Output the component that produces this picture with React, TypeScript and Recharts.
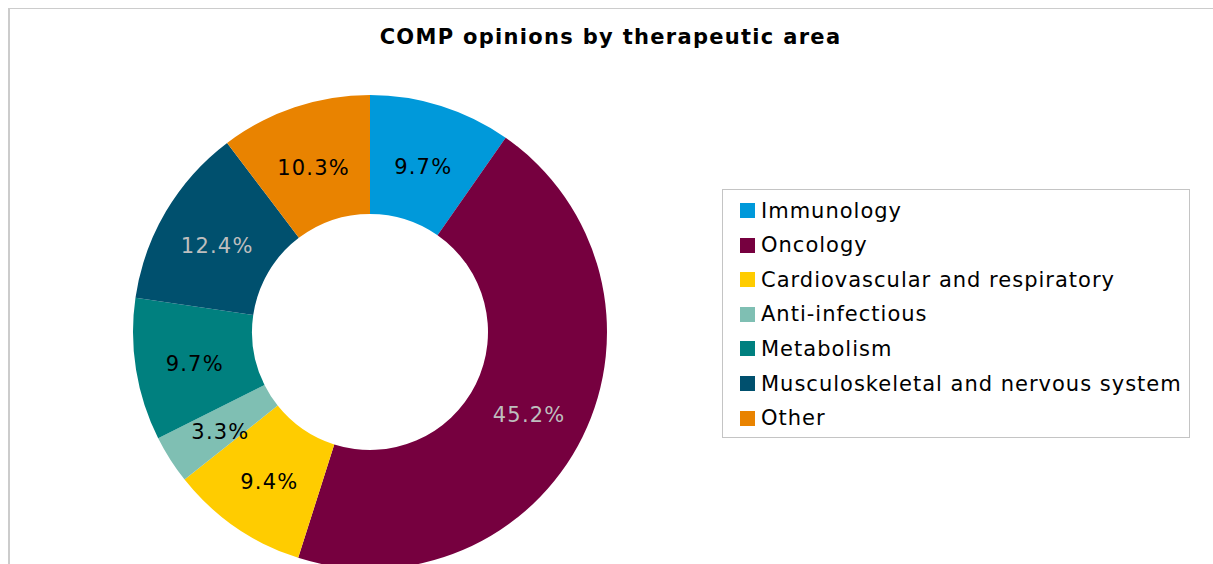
import React from "react";
import { PieChart, Pie, Cell, Legend } from "recharts";

const categories = [
  "Immunology",
  "Oncology",
  "Cardiovascular and respiratory",
  "Anti-infectious",
  "Metabolism",
  "Musculoskeletal and nervous system",
  "Other",
];
const shares = [9.7, 45.2, 9.4, 3.3, 9.7, 12.4, 10.3];
const colors = ["#0099DA", "#76003F", "#FFCC00", "#7FBFB3", "#00807F", "#00506E", "#E98300"];
const labelColors = ["#000000", "#BEBEBE", "#000000", "#000000", "#000000", "#BEBEBE", "#000000"];

const data = categories.map((name, i) => ({ name, value: shares[i] }));

const FONT = "Verdana, 'DejaVu Sans', sans-serif";
const RAD = Math.PI / 180;

const renderLabel = (props: any) => {
  const { cx, cy, midAngle, innerRadius, outerRadius, index, value } = props;
  const r = (innerRadius + outerRadius) / 2;
  const x = cx + r * Math.cos(-midAngle * RAD);
  const y = cy + r * Math.sin(-midAngle * RAD) + 4;
  return (
    <text
      x={x}
      y={y}
      textAnchor="middle"
      dominantBaseline="central"
      fill={labelColors[index]}
      style={{ fontFamily: FONT, fontSize: 21, letterSpacing: 1.2 }}
    >
      {value.toFixed(1) + "%"}
    </text>
  );
};

const renderLegend = () => (
  <div
    style={{
      width: 468,
      height: 249,
      boxSizing: "border-box",
      border: "1px solid #c4c4c4",
      fontFamily: FONT,
    }}
  >
    {categories.map((c, i) => (
      <div
        key={c}
        style={{
          position: "absolute",
          left: 18,
          top: 21.5 + i * 34.6 - 17,
          height: 34,
          display: "flex",
          alignItems: "center",
          whiteSpace: "nowrap",
        }}
      >
        <span
          style={{
            display: "inline-block",
            width: 15,
            height: 15,
            background: colors[i],
            marginRight: 6,
          }}
        />
        <span style={{ fontSize: 21, letterSpacing: 1, color: "#000" }}>{c}</span>
      </div>
    ))}
  </div>
);

export default function App() {
  return (
    <div
      style={{
        position: "fixed",
        left: 8,
        top: 8,
        width: 1205,
        height: 556,
        overflow: "hidden",
        background: "#fff",
      }}
    >
      <div
        style={{
          position: "absolute",
          left: 0,
          top: -1,
          width: 1300,
          height: 600,
          borderTop: "2px solid #cccccc",
          borderLeft: "2px solid #cccccc",
          boxSizing: "border-box",
        }}
      />
      <div
        style={{
          position: "absolute",
          left: 0,
          width: 1205,
          top: 17,
          textAlign: "center",
          fontFamily: FONT,
          fontWeight: "bold",
          fontSize: 21,
          letterSpacing: 1.3,
          color: "#000",
        }}
      >
        COMP opinions by therapeutic area
      </div>
      <div style={{ position: "absolute", left: 0, top: 0 }}>
        <PieChart width={1205} height={556} margin={{ top: 0, right: 0, bottom: 0, left: 0 }}>
          <Pie
            data={data}
            dataKey="value"
            nameKey="name"
            cx={362}
            cy={324}
            outerRadius={237}
            innerRadius={118}
            startAngle={90}
            endAngle={-270}
            stroke="none"
            label={renderLabel}
            labelLine={false}
            isAnimationActive={false}
          >
            {data.map((d, i) => (
              <Cell key={d.name} fill={colors[i]} />
            ))}
          </Pie>
          <Legend
            layout="vertical"
            align="right"
            verticalAlign="top"
            content={renderLegend}
            wrapperStyle={{ position: "absolute", left: 714, top: 181, width: 468, height: 249, right: "auto" }}
          />
        </PieChart>
      </div>
    </div>
  );
}
